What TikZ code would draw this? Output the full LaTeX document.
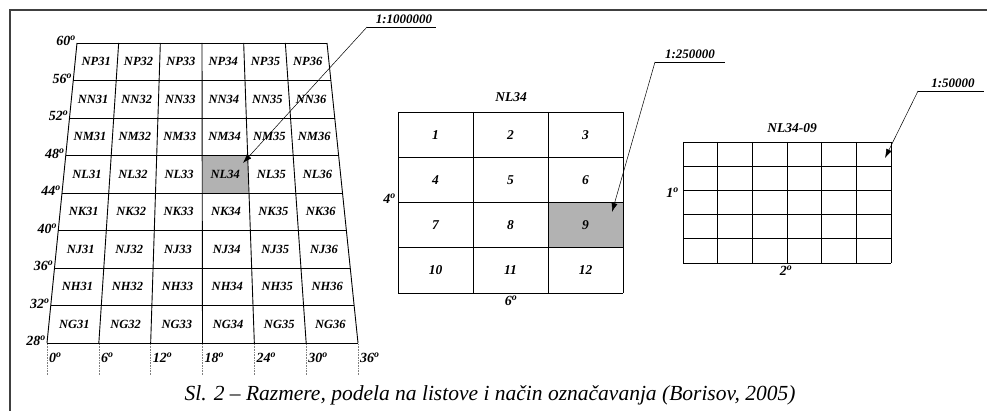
\documentclass[tikz,border=0pt]{standalone}
\usepackage{fontspec}
\setmainfont{Liberation Serif}
\usetikzlibrary{arrows.meta}
\tikzset{
  cell/.style={font=\fontsize{12.5}{14}\selectfont\bfseries\itshape, inner sep=0pt},
  num/.style={font=\fontsize{13.5}{15}\selectfont\bfseries\itshape, inner sep=0pt},
  deg/.style={font=\fontsize{14}{15}\selectfont\bfseries\itshape, inner sep=0pt},
  scalelbl/.style={font=\fontsize{13}{15}\selectfont\bfseries\itshape, inner sep=0pt},
  gridline/.style={line width=0.9pt, black},
  leader/.style={line width=0.5pt, -{Latex[length=9pt,width=6pt]}},
  tickline/.style={densely dotted, gray, line width=0.6pt},
  frameline/.style={line width=2pt, black!75},
}
\newcommand{\dg}[1]{#1\textsuperscript{o}}
\begin{document}
\begin{tikzpicture}[x=1pt,y=-1pt]
\useasboundingbox (0,0) rectangle (987,411);
% frame
\draw[frameline] (10,411) -- (10,10) -- (987,10);

% ---------- trapezoid grid ----------
\fill[gray!60] (203,155.5) -- (247.75,155.5) -- (248.52,193) -- (203,193) -- cycle;
\foreach \j in {0,...,8} {
  \pgfmathsetmacro\yy{43+37.5*\j}
  \pgfmathsetmacro\lft{77-0.1*(\yy-43)}
  \pgfmathsetmacro\rgt{327+0.10333*(\yy-43)}
  \draw[gridline] (\lft,\yy) -- (\rgt,\yy);
}
\foreach \k in {0,...,6} {
  \pgfmathsetmacro\xa{77+\k*250/6}
  \pgfmathsetmacro\xb{47+\k*311/6}
  \draw[gridline] (\xa,43) -- (\xb,343);
}
\foreach \L [count=\r from 0] in {P,N,M,L,K,J,H,G} {
  \pgfmathsetmacro\yc{43+37.5*(\r+0.5)}
  \pgfmathsetmacro\lft{77-0.1*(\yc-43)}
  \pgfmathsetmacro\cw{250+0.20333*(\yc-43)}
  \foreach \k in {1,...,6} {
    \pgfmathsetmacro\xc{\lft+(\k-0.5)*\cw/6}
    \pgfmathtruncatemacro\nn{30+\k}
    \node[cell] (c-\L\nn) at (\xc,\yc) {N\L\nn};
  }
}
\foreach \j/\lat in {0/60,1/56,2/52,3/48,4/44,5/40,6/36,7/32,8/28} {
  \pgfmathsetmacro\yy{43+37.5*\j}
  \pgfmathsetmacro\xx{76-0.1*(\yy-43)}
  \node[deg, anchor=east] (lat\lat) at (\xx,\yy-2) {\dg{\lat}};
}
\foreach \k/\lon in {0/0,1/6,2/12,3/18,4/24,5/30,6/36} {
  \pgfmathsetmacro\xx{47+\k*311/6}
  \draw[tickline] (\xx,344) -- (\xx,375);
  \node[deg, anchor=west] (lon\lon) at (\xx+2,358) {\dg{\lon}};
}

% ---------- NL34 grid ----------
\node[num] (t34) at (511,97) {NL34};
\fill[gray!60] (548,202.5) rectangle (623,247.75);
\foreach \j in {0,...,4} { \draw[gridline] (398,112+45.25*\j) -- (623,112+45.25*\j); }
\foreach \k in {0,...,3} { \draw[gridline] (398+75*\k,112) -- (398+75*\k,293); }
\foreach \mm [count=\i from 0] in {1,...,12} {
  \pgfmathtruncatemacro\cc{mod(\i,3)}
  \pgfmathtruncatemacro\rr{div(\i,3)}
  \node[num] (m\mm) at (435.5+75*\cc,134.6+45.25*\rr) {\mm};
}
\node[deg, anchor=east] (d4) at (396,199) {\dg{4}};
\node[deg] (d6) at (511,301) {\dg{6}};

% ---------- NL34-09 grid ----------
\node[num] (t3409) at (792,128) {NL34-09};
\foreach \j in {0,...,5} { \draw[gridline] (683,142+24.2*\j) -- (891,142+24.2*\j); }
\foreach \k in {0,...,6} { \draw[gridline] (683+34.667*\k,142) -- (683+34.667*\k,263); }
\node[deg, anchor=east] (d1) at (679,193) {\dg{1}};
\node[deg] (d2) at (786,271) {\dg{2}};

% ---------- scale labels and leaders ----------
\coordinate (u1l) at (367,27); \coordinate (u1r) at (436,27);
\node[scalelbl, anchor=south] (s1) at (404,24) {1:1000000};
\coordinate (tip1) at (243,163);
\draw[line width=0.6pt] (u1l) -- (u1r);
\draw[leader] (u1l) -- (tip1);

\coordinate (u2l) at (655,62); \coordinate (u2r) at (725,62);
\node[scalelbl, anchor=south] (s2) at (690,59) {1:250000};
\coordinate (tip2) at (612,212);
\draw[line width=0.6pt] (u2l) -- (u2r);
\draw[leader] (u2l) -- (tip2);

\coordinate (u3l) at (918,91); \coordinate (u3r) at (984,91);
\node[scalelbl, anchor=south] (s3) at (953,88) {1:50000};
\coordinate (tip3) at (885,158);
\draw[line width=0.6pt] (u3l) -- (u3r);
\draw[leader] (u3l) -- (tip3);

% ---------- caption ----------
\node[font=\fontsize{21.5}{23}\selectfont\itshape, inner sep=0pt] (cap) at (490,395) {Sl. 2 – Razmere, podela na listove i način označavanja (Borisov, 2005)};
\end{tikzpicture}
\end{document}
